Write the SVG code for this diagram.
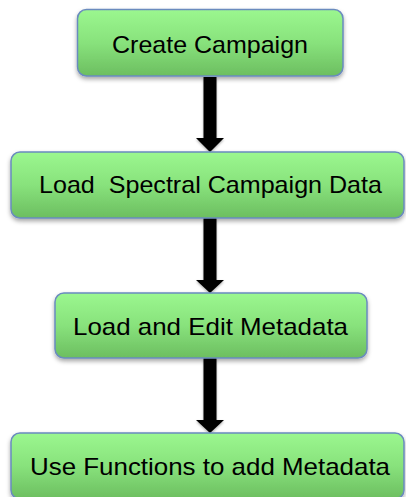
<svg xmlns="http://www.w3.org/2000/svg" width="406" height="497" viewBox="0 0 406 497">
<defs>
<linearGradient id="g" x1="0" y1="0" x2="0" y2="1">
<stop offset="0" stop-color="#9BF78F"/>
<stop offset="0.5" stop-color="#88E27C"/>
<stop offset="1" stop-color="#6CBE60"/>
</linearGradient>
<filter id="sh" x="-10%" y="-20%" width="120%" height="150%">
<feDropShadow dx="0" dy="2.5" stdDeviation="2" flood-color="#000" flood-opacity="0.35"/>
</filter>
<filter id="ash" x="-50%" y="-10%" width="200%" height="130%">
<feDropShadow dx="0" dy="1.5" stdDeviation="1.2" flood-color="#000" flood-opacity="0.3"/>
</filter>
</defs>
<style>
.box{fill:url(#g);stroke:#6A8BBE;stroke-width:1.5;filter:url(#sh)}
.t{font-family:"Liberation Sans",Arial,sans-serif;font-size:24px;fill:#000;text-anchor:middle;white-space:pre}
.arr{fill:#000;filter:url(#ash)}
</style>
<g id="connectors">
<path class="arr" d="M203.5,77 H216.5 V138 H224 L210,152 L196,138 H203.5 Z"/>
<path class="arr" d="M203.5,218 H216.5 V280 H224 L210,293 L196,280 H203.5 Z"/>
<path class="arr" d="M203.5,358 H216.5 V420 H224 L210,433 L196,420 H203.5 Z"/>
</g>
<g id="node1">
<rect class="box" x="77.5" y="9.5" width="265.5" height="66.5" rx="9"/>
<text class="t" x="210" y="53" textLength="196" lengthAdjust="spacingAndGlyphs">Create Campaign</text>
</g>
<g id="node2">
<rect class="box" x="11" y="152" width="393" height="66" rx="9"/>
<text class="t" x="210.5" y="193" textLength="343" lengthAdjust="spacingAndGlyphs">Load  Spectral Campaign Data</text>
</g>
<g id="node3">
<rect class="box" x="55" y="293" width="312" height="65" rx="9"/>
<text class="t" x="210.5" y="335" textLength="275" lengthAdjust="spacingAndGlyphs">Load and Edit Metadata</text>
</g>
<g id="node4">
<rect class="box" x="11" y="433" width="393" height="66" rx="9"/>
<text class="t" x="210" y="475" textLength="360" lengthAdjust="spacingAndGlyphs">Use Functions to add Metadata</text>
</g>
</svg>
